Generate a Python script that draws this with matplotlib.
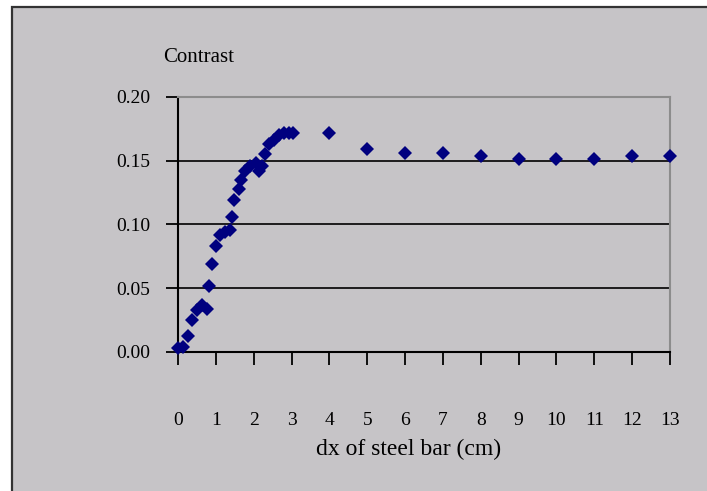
import matplotlib.pyplot as plt
import matplotlib.patches as mpatches
import numpy as np

# dx of steel bar (cm) vs contrast
dx = [0.0, 0.14, 0.27, 0.36, 0.5, 0.63, 0.76, 0.81, 0.9, 1.01,
      1.12, 1.25, 1.38, 1.43, 1.49, 1.6, 1.67, 1.78, 1.91, 2.05,
      2.14, 2.22, 2.31, 2.4, 2.53, 2.67, 2.8, 2.93, 3.03,
      4, 5, 6, 7, 8, 9, 10, 11, 12, 13]
contrast = [0.003, 0.004, 0.0125, 0.025, 0.033, 0.037, 0.034, 0.052, 0.069, 0.083,
            0.092, 0.094, 0.096, 0.106, 0.119, 0.128, 0.135, 0.142, 0.146, 0.148,
            0.142, 0.146, 0.155, 0.163, 0.166, 0.170, 0.172, 0.172, 0.172,
            0.172, 0.159, 0.156, 0.156, 0.154, 0.151, 0.151, 0.151, 0.154, 0.154]

xticks = list(range(0, 14))
yticks = [0.00, 0.05, 0.10, 0.15, 0.20]

bg = '#c6c4c7'
W, H = 707, 491
plt.rcParams['font.family'] = ['Liberation Serif', 'DejaVu Serif']

fig = plt.figure(figsize=(W / 100, H / 100), dpi=100, facecolor='white')

# chart area frame
frame = mpatches.Rectangle((12 / W, -0.05), 1.0, 1 - 7 / H + 0.05,
                           transform=fig.transFigure, facecolor=bg,
                           edgecolor='#333333', linewidth=1.6, zorder=-5)
fig.patches.append(frame)

ax = fig.add_axes([178 / W, 1 - 352 / H, (670 - 178) / W, (352 - 97) / H])
ax.set_facecolor('none')
ax.set_zorder(2)

for y in yticks[1:4]:
    ax.axhline(y, color='black', linewidth=1.2, zorder=1)

ax.plot(dx, contrast, linestyle='none', marker='D', markersize=7.4,
        color='#00007f', markeredgewidth=0, zorder=3, clip_on=False)

ax.set_xlim(0, 13)
ax.set_ylim(0, 0.20)
ax.set_xticks(xticks)
ax.set_xticklabels([str(t) for t in xticks])
ax.set_yticks(yticks)
ax.set_yticklabels(['%.2f' % t for t in yticks])

for s in ['top', 'right']:
    ax.spines[s].set_color('#8c8c8c')
    ax.spines[s].set_linewidth(1.5)
for s in ['bottom', 'left']:
    ax.spines[s].set_color('black')
    ax.spines[s].set_linewidth(1.5)

ax.tick_params(axis='x', direction='out', length=9, width=1.3, pad=34,
               labelsize=14, colors='black')
ax.tick_params(axis='y', direction='out', length=9, width=1.3, pad=11,
               labelsize=14, colors='black')

fig.text(163 / W, 1 - 58 / H, 'Contrast', fontsize=15, ha='left', va='center')
fig.text(409 / W, 1 - 449 / H, 'dx of steel bar (cm)', fontsize=17,
         ha='center', va='center')

fig.savefig('out.png', dpi=100, facecolor='white')
